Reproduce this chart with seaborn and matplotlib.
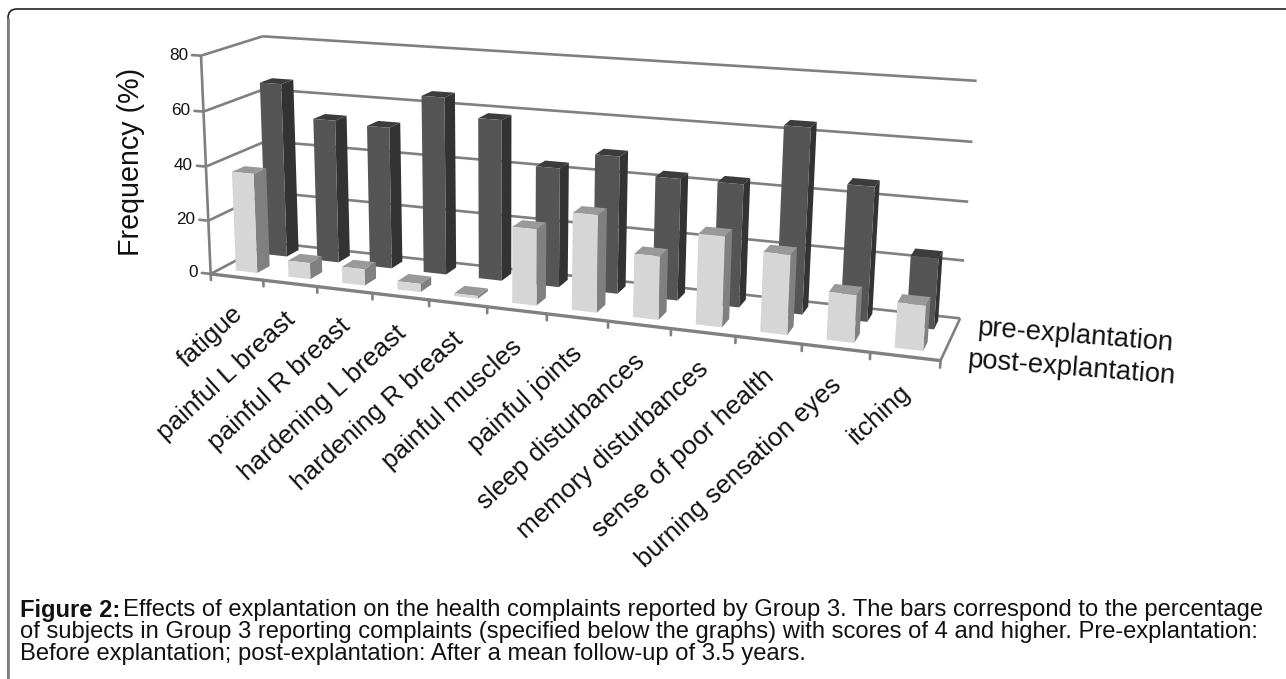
import matplotlib
matplotlib.use("Agg")
import matplotlib.pyplot as plt
import numpy as np
import pandas as pd
import seaborn as sns
from matplotlib.patches import FancyBboxPatch
from matplotlib.transforms import Transform

complaints = ["fatigue", "painful L breast", "painful R breast", "hardening L breast",
              "hardening R breast", "painful muscles", "painful joints", "sleep disturbances",
              "memory disturbances", "sense of poor health", "burning sensation eyes", "itching"]
pre_values = [65.5, 53.5, 52.5, 65, 58.5, 43, 49, 43, 43, 64, 46, 24]
post_values = [37, 6, 6, 3, 1, 27, 34, 22, 31, 27, 16, 15]
y_ticks = [0, 20, 40, 60, 80]

caption_lines = [
    "Effects of explantation on the health complaints reported by Group 3. The bars correspond to the percentage",
    "of subjects in Group 3 reporting complaints (specified below the graphs) with scores of 4 and higher. Pre-explantation:",
    "Before explantation; post-explantation: After a mean follow-up of 3.5 years.",
]

BAR_WIDTH = 0.41
PRE_DEPTH = (0.67, 0.88)
POST_DEPTH = (0.16, 0.37)
LINE_COLOR = "#808080"
TEXT_COLOR = "#111111"
CAPTION_SIZE = 17.1

# (category position, depth, value) -> pixel, used to calibrate the box view
CALIBRATION = [
    ((0, 0, 80), (199, 55)), ((0, 0, 40), (207, 166)), ((0, 0, 0), (212, 274)),
    ((0, 1, 80), (264, 37)), ((0, 1, 0), (268, 243)),
    ((12, 1, 80), (976, 81)), ((12, 1, 60), (973, 142)), ((12, 1, 40), (968, 202)),
    ((12, 1, 20), (965, 260)), ((12, 1, 0), (960, 317)), ((12, 0, 0), (940, 362)),
]


def fit_projection(points):
    """Solve the 3x4 projective matrix for the box from its known corners."""
    rows, rhs = [], []
    for (x, d, z), (u, v) in points:
        rows.append([x, d, z, 1, 0, 0, 0, 0, -u * x, -u * d, -u * z])
        rows.append([0, 0, 0, 0, x, d, z, 1, -v * x, -v * d, -v * z])
        rhs += [u, v]
    sol = np.linalg.lstsq(np.array(rows, float), np.array(rhs, float), rcond=None)[0]
    return np.append(sol, 1.0).reshape(3, 4)


PROJ = fit_projection(CALIBRATION)


def project(x, d, z):
    x, d, z = np.broadcast_arrays(np.asarray(x, float), np.asarray(d, float), np.asarray(z, float))
    world = np.stack([x, d, z, np.ones_like(x)], axis=-1)
    img = world @ PROJ.T
    return img[..., :2] / img[..., 2:]


class DepthPlane(Transform):
    """Maps bar coordinates (category, value) onto the plane at a given depth."""
    input_dims = 2
    output_dims = 2
    is_separable = False
    has_inverse = False

    def __init__(self, plane_depth):
        super().__init__()
        self.plane_depth = plane_depth

    def transform_non_affine(self, values):
        values = np.asarray(values, float)
        return project(values[:, 0] + 0.5, self.plane_depth, values[:, 1])


def line3d(ax, start, end, lw=1.9, color=LINE_COLOR, zorder=1):
    pts = project(*np.array([start, end]).T)
    ax.plot(pts[:, 0], pts[:, 1], color=color, lw=lw, zorder=zorder, solid_capstyle="butt")


def draw_bars(ax, df, depth, colors, zorder):
    """Seaborn gives the bar rectangles; they are moved to the depth plane and given side and top."""
    near, far = depth
    front, side, top = colors
    sns.barplot(data=df, x="complaint", y="frequency", color=front, saturation=1,
                width=BAR_WIDTH, errorbar=None, linewidth=0, ax=ax, order=complaints)
    plane = DepthPlane(near) + ax.transData
    for patch in ax.containers[-1]:
        patch.set_transform(plane)
        patch.set_zorder(zorder + 1)
        x0 = patch.get_x() + 0.5
        x1 = x0 + patch.get_width()
        h = patch.get_height()
        side_pts = project([x1, x1, x1, x1], [near, far, far, near], [0, 0, h, h])
        top_pts = project([x0, x1, x1, x0], [near, near, far, far], [h, h, h, h])
        ax.fill(side_pts[:, 0], side_pts[:, 1], color=side, lw=0, zorder=zorder)
        ax.fill(top_pts[:, 0], top_pts[:, 1], color=top, lw=0, zorder=zorder)


def main():
    sns.set_theme(style="white")
    plt.rcParams["font.family"] = ["Liberation Sans", "DejaVu Sans"]

    df = pd.DataFrame({
        "complaint": complaints * 2,
        "frequency": pre_values + post_values,
        "period": ["pre-explantation"] * 12 + ["post-explantation"] * 12,
    })

    fig = plt.figure(figsize=(12.86, 6.79), dpi=100)
    ax = fig.add_axes([0, 0, 1, 1])

    # walls and floor
    for z in y_ticks:
        line3d(ax, (0, 0, z), (0, 1, z))
        line3d(ax, (0, 1, z), (12, 1, z))
        tick = project([0, -0.17], [0, 0], [z, z])
        ax.plot(tick[:, 0], tick[:, 1], color=LINE_COLOR, lw=1.9, zorder=8)
        ax.text(tick[1, 0] - 4, tick[1, 1], str(z), ha="right", va="center", fontsize=12.3, color=TEXT_COLOR)
    line3d(ax, (0, 0, 0), (0, 0, 80), zorder=8)
    line3d(ax, (0, 0, 0), (12, 0, 0), lw=2.4, zorder=8)
    line3d(ax, (12, 0, 0), (12, 1, 0))
    for i in range(13):
        tick = project([i, i], [0, 0], [0, -2.3])
        ax.plot(tick[:, 0], tick[:, 1], color=LINE_COLOR, lw=1.9, zorder=8)

    draw_bars(ax, df[df["period"] == "pre-explantation"], PRE_DEPTH, ("#555555", "#333333", "#3c3c3c"), 3)
    draw_bars(ax, df[df["period"] == "post-explantation"], POST_DEPTH, ("#d6d6d6", "#808080", "#999999"), 5)

    # barplot resets the axes, so the pixel frame comes last
    ax.set_xlim(0, 1286)
    ax.set_ylim(679, 0)
    ax.set_axis_off()

    for i, label in enumerate(complaints):
        anchor = project(i + 0.5, 0, 0)
        ax.text(anchor[0] + 2, anchor[1] + 33, label, rotation=42.5, rotation_mode="anchor",
                ha="right", va="center", fontsize=18.8, color=TEXT_COLOR)

    ax.text(131, 162, "Frequency (%)", rotation=90, ha="center", va="center", fontsize=20.6, color=TEXT_COLOR)
    ax.text(977, 328, "pre-explantation", rotation=-4.6, rotation_mode="anchor", ha="left", va="center",
            fontsize=19.7, color=TEXT_COLOR)
    ax.text(967, 360, "post-explantation", rotation=-4.6, rotation_mode="anchor", ha="left", va="center",
            fontsize=19.7, color=TEXT_COLOR)

    # frame: dark top edge, heavier grey left edge, running past the right and bottom of the picture
    frame = FancyBboxPatch((8, 9), 1300, 700, boxstyle="round,pad=0,rounding_size=9",
                           fc="none", ec="#222222", lw=1.2, zorder=0)
    ax.add_patch(frame)
    ax.plot([8, 8], [18, 679], color=LINE_COLOR, lw=2.0, zorder=0.5, solid_capstyle="butt")

    bold = ax.text(20, 610, "Figure 2:", fontsize=CAPTION_SIZE, fontweight="bold", va="center", color=TEXT_COLOR)
    fig.canvas.draw()
    bold_right = bold.get_window_extent().x1
    ax.text(bold_right + 3, 610, caption_lines[0], fontsize=CAPTION_SIZE, va="center", color=TEXT_COLOR)
    ax.text(20, 632, caption_lines[1], fontsize=CAPTION_SIZE, va="center", color=TEXT_COLOR)
    ax.text(20, 654, caption_lines[2], fontsize=CAPTION_SIZE, va="center", color=TEXT_COLOR)

    fig.savefig("out.png", dpi=100)
    plt.close(fig)


if __name__ == "__main__":
    main()
